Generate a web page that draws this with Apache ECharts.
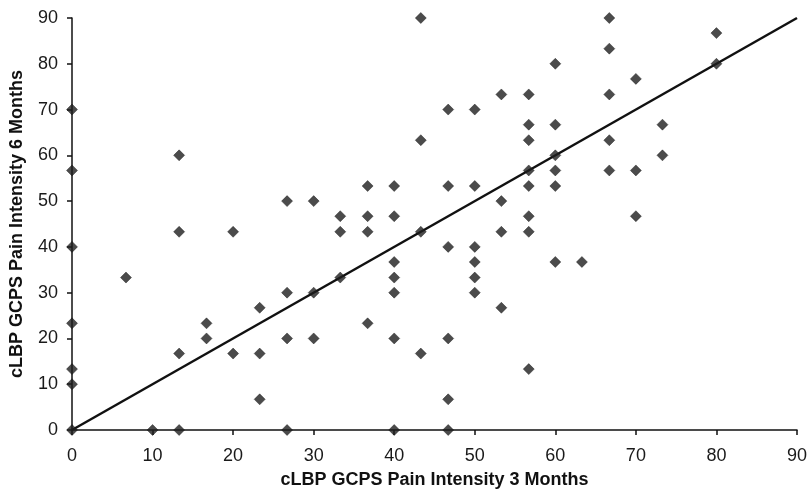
<!DOCTYPE html>
<html>
<head>
<meta charset="utf-8">
<script src="https://cdn.jsdelivr.net/npm/echarts@6/dist/echarts.min.js"></script>
<style>html,body{margin:0;padding:0;background:#fff}#c{width:810px;height:497px}</style>
</head>
<body>
<div id="c"></div>
<script>
const xTitle = 'cLBP GCPS Pain Intensity 3 Months';
const yTitle = 'cLBP GCPS Pain Intensity 6 Months';
// pain intensity at 3 months (x) and 6 months (y), one entry per patient
const x3Months = [
  0, 0, 0, 0, 0, 0, 0,
  6.7,
  10,
  13.3, 13.3, 13.3, 13.3,
  16.7, 16.7,
  20, 20,
  23.3, 23.3, 23.3,
  26.7, 26.7, 26.7, 26.7,
  30, 30, 30,
  33.3, 33.3, 33.3,
  36.7, 36.7, 36.7, 36.7,
  40, 40, 40, 40, 40, 40, 40,
  43.3, 43.3, 43.3, 43.3,
  46.7, 46.7, 46.7, 46.7, 46.7, 46.7,
  50, 50, 50, 50, 50, 50,
  53.3, 53.3, 53.3, 53.3,
  56.7, 56.7, 56.7, 56.7, 56.7, 56.7, 56.7, 56.7,
  60, 60, 60, 60, 60, 60,
  63.3,
  66.7, 66.7, 66.7, 66.7, 66.7,
  70, 70, 70,
  73.3, 73.3,
  80, 80
];
const y6Months = [
  70, 56.7, 40, 23.3, 13.3, 10, 0,
  33.3,
  0,
  60, 43.3, 16.7, 0,
  23.3, 20,
  43.3, 16.7,
  26.7, 16.7, 6.7,
  50, 30, 20, 0,
  50, 30, 20,
  46.7, 43.3, 33.3,
  53.3, 46.7, 43.3, 23.3,
  53.3, 46.7, 36.7, 33.3, 30, 20, 0,
  90, 63.3, 43.3, 16.7,
  70, 53.3, 40, 20, 6.7, 0,
  70, 53.3, 40, 36.7, 33.3, 30,
  73.3, 50, 43.3, 26.7,
  73.3, 66.7, 63.3, 56.7, 53.3, 46.7, 43.3, 13.3,
  80, 66.7, 60, 56.7, 53.3, 36.7,
  36.7,
  90, 83.3, 73.3, 63.3, 56.7,
  76.7, 56.7, 46.7,
  66.7, 60,
  86.7, 80
];
// reference line y = x
const refLineX = [0, 90];
const refLineY = [0, 90];

const points = x3Months.map((v, i) => [v, y6Months[i]]);
const refLine = refLineX.map((v, i) => [v, refLineY[i]]);

const font = 'Liberation Sans, Arial, sans-serif';
const axisCommon = {
  type: 'value', min: 0, max: 90, interval: 10,
  splitLine: { show: false },
  axisLine: { show: true, onZero: false, lineStyle: { color: '#111', width: 1.5 } },
  axisTick: { show: true, inside: false, length: 5, lineStyle: { color: '#111', width: 1.5 } },
  nameLocation: 'middle',
  nameTextStyle: { fontFamily: font, fontSize: 18, fontWeight: 'bold', color: '#111' }
};
const chart = echarts.init(document.getElementById('c'), null, { renderer: 'canvas' });
chart.setOption({
  backgroundColor: '#ffffff',
  animation: false,
  grid: { left: 72, right: 11, top: 18, bottom: 67, containLabel: false },
  xAxis: Object.assign({}, axisCommon, {
    name: xTitle, nameGap: 41,
    axisLabel: { fontFamily: font, fontSize: 18, color: '#1a1a1a', margin: 17 }
  }),
  yAxis: Object.assign({}, axisCommon, {
    name: yTitle, nameGap: 46,
    axisLabel: { fontFamily: font, fontSize: 18, color: '#1a1a1a', margin: 14 }
  }),
  series: [
    {
      type: 'line', data: refLine, symbol: 'none', z: 2,
      lineStyle: { color: '#111', width: 2.5 }
    },
    {
      type: 'scatter', data: points, symbol: 'diamond', symbolSize: 11, z: 3,
      itemStyle: { color: '#1e1e1e', borderColor: '#111', borderWidth: 0.5 }
    }
  ]
});
</script>
</body>
</html>
